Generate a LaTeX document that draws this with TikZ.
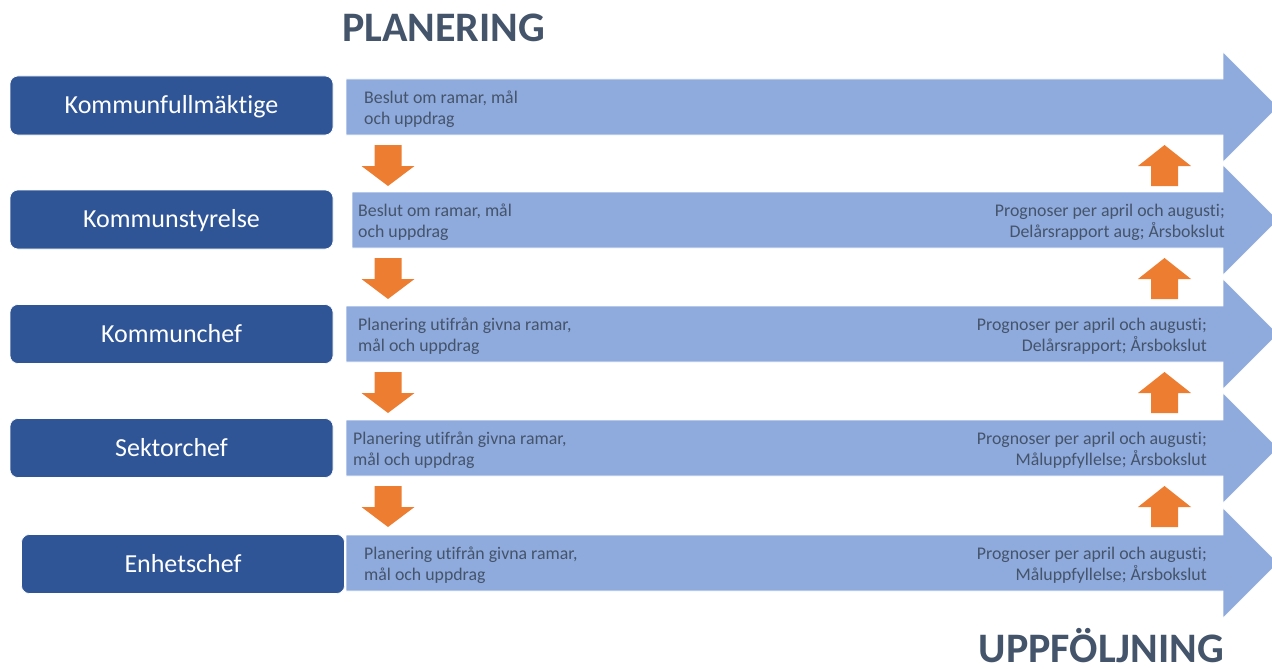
\documentclass[tikz,border=0pt]{standalone}
\usepackage{fontspec}
\setmainfont{Carlito}[Ligatures=NoCommon]
\definecolor{rolecol}{HTML}{2F5597}
\definecolor{flowcol}{HTML}{8FAADC}
\definecolor{pushcol}{HTML}{ED7D31}
\definecolor{textcol}{HTML}{44546A}
\tikzset{
  rolebox/.style={fill=rolecol, draw=white, line width=0.6pt, rounded corners=8pt,
    minimum width=323pt, minimum height=59pt, inner sep=0pt,
    text height=16.7pt, text depth=0pt,
    text=white, font=\fontsize{26}{30}\selectfont},
  flowtext/.style={text=textcol, inner sep=0pt, font=\fontsize{17.8}{21}\selectfont},
  flowarrow/.style={fill=flowcol, draw=white, line width=0.6pt},
  pusharrow/.style={fill=pushcol},
  headline/.style={text=textcol, inner sep=0pt, text depth=0pt, font=\bfseries\fontsize{42}{46}\selectfont}
}
\begin{document}
\begin{tikzpicture}[x=1pt, y=-1pt]
    \useasboundingbox (0,0) rectangle (1272,669);
    \clip (0,0) rectangle (1272,669);

    % big flow arrows, one per level
    \foreach \y/\xs in {107/346, 220/352, 334/346, 448/346, 563/346}
    {\draw[flowarrow] (\xs, \y-28) -- (1223, \y-28) -- (1223, \y-55) -- (1278, \y)
        -- (1223, \y+55) -- (1223, \y+28) -- (\xs, \y+28) -- cycle;}

    % orange arrows: down on the left, up on the right
    \foreach \y in {107, 220, 334, 448}
    {
    \fill[pusharrow] (374.5, \y+38) -- (401.5, \y+38) -- (401.5, \y+59) -- (414.5, \y+59)
        -- (388, \y+79) -- (361.5, \y+59) -- (374.5, \y+59) -- cycle;
    \fill[pusharrow] (1151, \y+79) -- (1178, \y+79) -- (1178, \y+59) -- (1191, \y+59)
        -- (1164.5, \y+38) -- (1138, \y+59) -- (1151, \y+59) -- cycle;
    }

    \node[rolebox] (kf) at (171.5, 105.5) {Kommunfullmäktige};
    \node[rolebox] (ks) at (171.5, 219.5) {Kommunstyrelse};
    \node[rolebox] (kc) at (171.5, 334) {Kommunchef};
    \node[rolebox] (sc) at (171.5, 448) {Sektorchef};
    \node[rolebox] (ec) at (183, 564) {Enhetschef};

    \node[flowtext, anchor=west, align=left] (planKf) at (364, 109) {Beslut om ramar, mål\\och uppdrag};
    \node[flowtext, anchor=west, align=left] (planKs) at (358, 222) {Beslut om ramar, mål\\och uppdrag};
    \node[flowtext, anchor=west, align=left] (planKc) at (358, 336) {Planering utifrån givna ramar,\\mål och uppdrag};
    \node[flowtext, anchor=west, align=left] (planSc) at (353, 450) {Planering utifrån givna ramar,\\mål och uppdrag};
    \node[flowtext, anchor=west, align=left] (planEc) at (364, 565) {Planering utifrån givna ramar,\\mål och uppdrag};

    \node[flowtext, anchor=east, align=right] (uppKs) at (1225, 222) {Prognoser per april och augusti;\\Delårsrapport aug; Årsbokslut};
    \node[flowtext, anchor=east, align=right] (uppKc) at (1207, 336) {Prognoser per april och augusti;\\Delårsrapport; Årsbokslut};
    \node[flowtext, anchor=east, align=right] (uppSc) at (1207, 450) {Prognoser per april och augusti;\\Måluppfyllelse; Årsbokslut};
    \node[flowtext, anchor=east, align=right] (uppEc) at (1207, 565) {Prognoser per april och augusti;\\Måluppfyllelse; Årsbokslut};

    \node[headline, anchor=base west] (planering) at (342, 42) {PLANERING};
    \node[headline, anchor=base east] (uppfoljning) at (1224, 662) {UPPFÖLJNING};
\end{tikzpicture}
\end{document}
